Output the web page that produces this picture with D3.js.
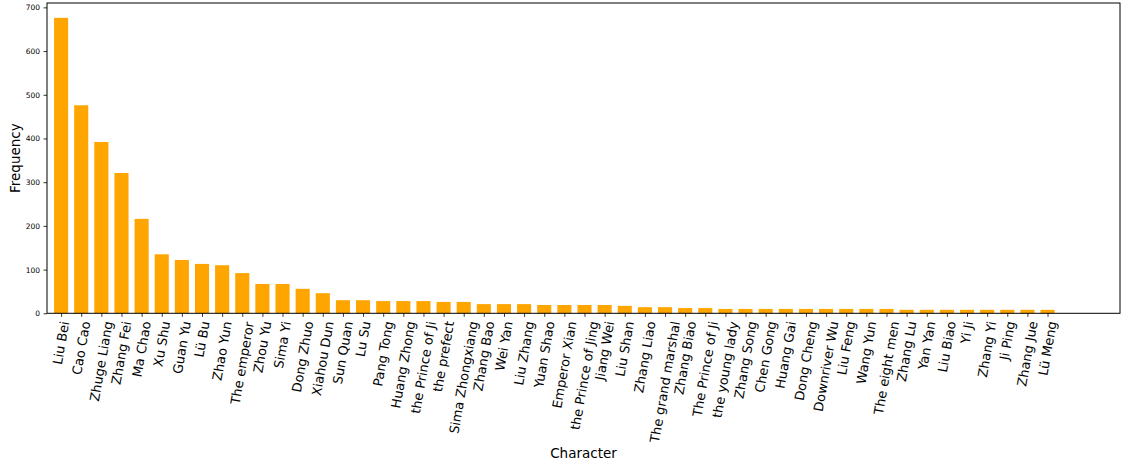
<!DOCTYPE html>
<html>
<head>
<meta charset="utf-8">
<script src="https://cdn.jsdelivr.net/npm/d3@7"></script>
<style>
  html, body { margin: 0; padding: 0; background: #fff; }
  svg { display: block; font-family: "DejaVu Sans", sans-serif; }
</style>
</head>
<body>
<svg id="chart" width="1126" height="466"></svg>
<script>
// Character appearance counts
const characters = [
  "Liu Bei", "Cao Cao", "Zhuge Liang", "Zhang Fei", "Ma Chao", "Xu Shu", "Guan Yu", "Lü Bu",
  "Zhao Yun", "The emperor", "Zhou Yu", "Sima Yi", "Dong Zhuo", "Xiahou Dun", "Sun Quan", "Lu Su",
  "Pang Tong", "Huang Zhong", "the Prince of Ji", "the prefect", "Sima Zhongxiang", "Zhang Bao",
  "Wei Yan", "Liu Zhang", "Yuan Shao", "Emperor Xian", "the Prince of Jing", "Jiang Wei", "Liu Shan",
  "Zhang Liao", "The grand marshal", "Zhang Biao", "The Prince of Ji", "the young lady", "Zhang Song",
  "Chen Gong", "Huang Gai", "Dong Cheng", "Downriver Wu", "Liu Feng", "Wang Yun", "The eight men",
  "Zhang Lu", "Yan Yan", "Liu Biao", "Yi Ji", "Zhang Yi", "Ji Ping", "Zhang Jue", "Lü Meng"
];
const frequencies = [
  676, 476, 392, 321, 216, 135, 122, 113,
  110, 92, 67, 67, 56, 46, 30, 30,
  28, 28, 28, 26, 26, 21,
  21, 21, 19, 19, 19, 19, 17,
  14, 14, 12, 12, 10, 10,
  10, 10, 10, 10, 10, 10, 10,
  8, 8, 8, 8, 8, 8, 8, 8
];
const yTicks = [0, 100, 200, 300, 400, 500, 600, 700];
const xTitle = "Character";
const yTitle = "Frequency";

const svg = d3.select("#chart");
const plot = { left: 47, right: 1120, top: 3, bottom: 313.3 };

// x limits in index units, y limits in counts
const x = d3.scaleLinear().domain([-0.7, 52.6]).range([plot.left, plot.right]);
const y = d3.scaleLinear().domain([0, 710]).range([plot.bottom, plot.top]);
const barW = x(0.7) - x(0);

// bars
svg.append("g")
  .selectAll("rect")
  .data(frequencies)
  .join("rect")
  .attr("x", (d, i) => x(i) - barW / 2)
  .attr("y", d => y(d))
  .attr("width", barW)
  .attr("height", d => y(0) - y(d))
  .attr("fill", "#ffa500");

// y axis
const yAxis = svg.append("g")
  .attr("transform", `translate(${plot.left},0)`)
  .call(d3.axisLeft(y).tickValues(yTicks).tickSize(3.5).tickPadding(3.5));
yAxis.select(".domain").remove();
yAxis.selectAll(".tick line").attr("stroke", "#000").attr("stroke-width", 0.8);
yAxis.selectAll(".tick text")
  .attr("font-family", "DejaVu Sans")
  .attr("font-size", 7.5)
  .attr("fill", "#000");

// x axis ticks
const xAxis = svg.append("g")
  .attr("transform", `translate(0,${plot.bottom})`)
  .call(d3.axisBottom(x).tickValues(d3.range(characters.length)).tickSize(3.5).tickFormat(""));
xAxis.select(".domain").remove();
xAxis.selectAll(".tick line").attr("stroke", "#000").attr("stroke-width", 0.8);

// rotated category labels: rotated box centred on the tick, top just under it
const angle = 80;
const rad = angle * Math.PI / 180;
const labelTop = 320;
const labels = svg.append("g");
characters.forEach((name, i) => {
  const g = labels.append("g");
  const t = g.append("text")
    .attr("font-family", "DejaVu Sans")
    .attr("font-size", 13)
    .attr("fill", "#000")
    .attr("transform", `rotate(${-angle})`)
    .text(name);
  const b = t.node().getBBox();
  const corners = [[b.x, b.y], [b.x + b.width, b.y], [b.x, b.y + b.height], [b.x + b.width, b.y + b.height]]
    .map(([px, py]) => [px * Math.cos(rad) + py * Math.sin(rad), -px * Math.sin(rad) + py * Math.cos(rad)]);
  const minX = d3.min(corners, c => c[0]);
  const maxX = d3.max(corners, c => c[0]);
  const minY = d3.min(corners, c => c[1]);
  g.attr("transform", `translate(${x(i) - (minX + maxX) / 2},${labelTop - minY})`);
});

// frame
svg.append("rect")
  .attr("x", plot.left)
  .attr("y", plot.top)
  .attr("width", plot.right - plot.left)
  .attr("height", plot.bottom - plot.top)
  .attr("fill", "none")
  .attr("stroke", "#000")
  .attr("stroke-width", 1);

// axis titles
svg.append("text")
  .attr("x", (plot.left + plot.right) / 2)
  .attr("y", 458)
  .attr("text-anchor", "middle")
  .attr("font-size", 13.5)
  .attr("fill", "#000")
  .text(xTitle);

svg.append("text")
  .attr("transform", `translate(20,${(plot.top + plot.bottom) / 2}) rotate(-90)`)
  .attr("text-anchor", "middle")
  .attr("font-size", 13.5)
  .attr("fill", "#000")
  .text(yTitle);
</script>
</body>
</html>
